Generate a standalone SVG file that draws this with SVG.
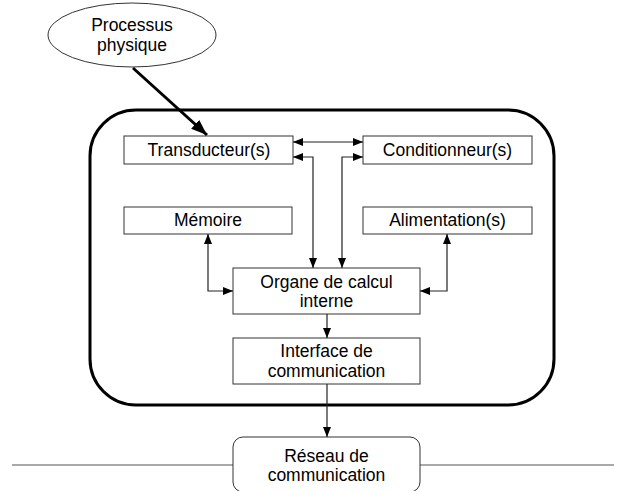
<svg xmlns="http://www.w3.org/2000/svg" width="625" height="491" viewBox="0 0 625 491">
<style>
.box{fill:#fff;stroke:#333;stroke-width:1}
.t{font-family:"Liberation Sans",Arial,sans-serif;font-size:17.5px;fill:#000;text-anchor:middle}
.c{fill:none;stroke:#222;stroke-width:1.2}
</style>
<defs>
<marker id="ah" viewBox="0 0 10 8" refX="10" refY="4" markerWidth="10" markerHeight="8" markerUnits="userSpaceOnUse" orient="auto-start-reverse">
<path d="M0,0 L10,4 L0,8 z" fill="#000"/>
</marker>
<marker id="big" viewBox="0 0 16 12" refX="16" refY="6" markerWidth="16" markerHeight="12" markerUnits="userSpaceOnUse" orient="auto">
<path d="M0,0 L16,6 L0,12 z" fill="#000"/>
</marker>
</defs>
<rect width="625" height="491" fill="#fff"/>
<g id="bus">
<line x1="12" y1="465" x2="614" y2="465" stroke="#555" stroke-width="1.2"/>
</g>
<g id="capteur">
<rect x="90" y="110" width="464" height="295" rx="46" ry="46" fill="none" stroke="#000" stroke-width="3"/>
</g>
<g id="processus">
<ellipse cx="132" cy="35" rx="84" ry="32" fill="#fff" stroke="#333" stroke-width="1"/>
<text class="t" x="132" y="31">Processus</text>
<text class="t" x="132" y="51">physique</text>
</g>
<g id="transducteur">
<rect class="box" x="124" y="136" width="169" height="28"/>
<text class="t" x="209" y="156">Transducteur(s)</text>
</g>
<g id="conditionneur">
<rect class="box" x="363" y="136" width="169" height="28"/>
<text class="t" x="447.5" y="156">Conditionneur(s)</text>
</g>
<g id="memoire">
<rect class="box" x="124" y="207" width="168" height="27"/>
<text class="t" x="208" y="226">Mémoire</text>
</g>
<g id="alimentation">
<rect class="box" x="363" y="207" width="169" height="27"/>
<text class="t" x="447.5" y="226">Alimentation(s)</text>
</g>
<g id="organe">
<rect class="box" x="233" y="268" width="187" height="46"/>
<text class="t" x="326.5" y="288">Organe de calcul</text>
<text class="t" x="326.5" y="307">interne</text>
</g>
<g id="interface">
<rect class="box" x="233" y="338" width="187" height="46"/>
<text class="t" x="326.5" y="357">Interface de</text>
<text class="t" x="326.5" y="377">communication</text>
</g>
<g id="reseau">
<rect class="box" x="233" y="437" width="187" height="55" rx="10" ry="10"/>
<text class="t" x="326.5" y="462">Réseau de</text>
<text class="t" x="326.5" y="481">communication</text>
</g>
<g id="connectors">
<line x1="133" y1="68" x2="207" y2="135" stroke="#000" stroke-width="3" marker-end="url(#big)"/>
<line class="c" x1="293" y1="142" x2="363" y2="142" marker-start="url(#ah)" marker-end="url(#ah)"/>
<polyline class="c" points="293,157 313,157 313,268" marker-start="url(#ah)" marker-end="url(#ah)"/>
<polyline class="c" points="363,157 342,157 342,268" marker-start="url(#ah)" marker-end="url(#ah)"/>
<polyline class="c" points="208,234 208,291 233,291" marker-start="url(#ah)" marker-end="url(#ah)"/>
<polyline class="c" points="447,234 447,291 420,291" marker-start="url(#ah)" marker-end="url(#ah)"/>
<line class="c" x1="327" y1="314" x2="327" y2="338" marker-end="url(#ah)"/>
<line class="c" x1="327" y1="384" x2="327" y2="437" marker-end="url(#ah)"/>
</g>
</svg>
